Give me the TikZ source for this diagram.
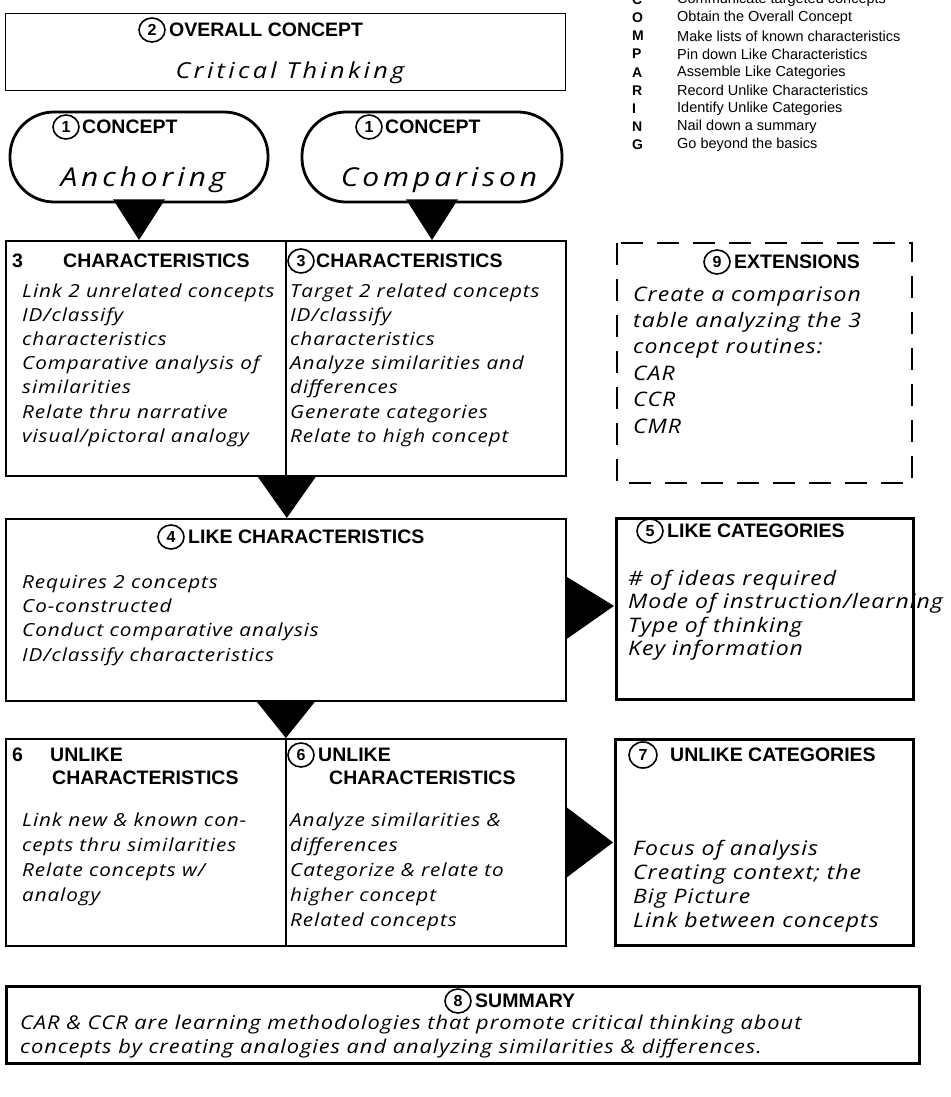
\documentclass[tikz,border=0pt]{standalone}
\usepackage{fontspec}
\setmainfont{Liberation Sans}
\newfontfamily\handf{Open Sans}[FakeStretch=1.15,LetterSpace=5]
\newfontfamily\handbig{Open Sans}[FakeStretch=1.15,LetterSpace=15]
\usetikzlibrary{calc,shapes.geometric}
\tikzset{
  box/.style={draw, line width=1.8pt, anchor=north west, inner sep=0pt},
  thinbox/.style={box, line width=1.3pt},
  thickbox/.style={box, line width=3pt},
  oval/.style={draw, line width=2.8pt, rounded corners=44pt, inner sep=0pt},
  cnum/.style={draw, ellipse, line width=1.6pt, minimum width=26pt, minimum height=24pt, inner sep=0pt,
    font=\fontsize{16}{16}\selectfont\bfseries},
  head/.style={anchor=west, font=\fontsize{19.5}{21}\selectfont\bfseries},
  hand/.style={font=\handf\itshape\fontsize{18}{24}\selectfont},
  handx/.style={font=\handf\itshape\fontsize{20}{24}\selectfont},
  hands/.style={font=\handf\itshape\fontsize{19}{24}\selectfont},
  title/.style={anchor=base, font=\handbig\itshape\fontsize{26}{30}\selectfont},
  legl/.style={anchor=west, font=\fontsize{14}{16}\selectfont\bfseries},
  legt/.style={anchor=west, font=\fontsize{14.5}{16}\selectfont},
  tri/.style={fill=black},
}
\newcommand\txtlines[6][hand]{%
  \foreach \t [count=\i] in {#6} {%
    \node[#1, anchor=base west] (#2\i) at (#3,{#4+(\i-1)*#5}) {\t};}}
\begin{document}
\begin{tikzpicture}[x=1pt,y=-1pt, every node/.style={inner sep=0pt}]
\useasboundingbox (0,0) rectangle (950,1097);
\fill[white] (0,0) rectangle (950,1097);

% legend
\foreach \L/\T [count=\i] in {C/Communicate targeted concepts, O/Obtain the Overall Concept,
  M/Make lists of known characteristics, P/Pin down Like Characteristics,
  A/Assemble Like Categories, R/Record Unlike Characteristics,
  I/Identify Unlike Categories, N/Nail down a summary, G/Go beyond the basics} {
  \node[legl] (legL\i) at (632,{-0.5+18.2*(\i-1)}) {\L};
  \node[legt] (legT\i) at (677,{-0.5+18.2*(\i-1)}) {\T};
}

% overall concept
\node[thinbox, minimum width=560pt, minimum height=77pt] (top) at (5,13) {};
\node[cnum] (c2) at (152,30) {2};
\node[head] (h2) at (169,30) {OVERALL CONCEPT};
\node[title, font=\handbig\itshape\fontsize{22}{26}\selectfont] (crit) at (290,79) {Critical Thinking};

% ovals
\node[oval, minimum width=258pt, minimum height=90pt] (oL) at (139,157) {};
\node[oval, minimum width=260pt, minimum height=90pt] (oR) at (432,157) {};
\node[cnum] (c1a) at (66,127) {1};
\node[head] (h1a) at (82,127) {CONCEPT};
\node[cnum] (c1b) at (369,127) {1};
\node[head] (h1b) at (385,127) {CONCEPT};
\node[title] (anch) at (143,186) {Anchoring};
\node[title] (comp) at (439,186) {Comparison};

% characteristics
\node[box, minimum width=280pt, minimum height=235pt] (cL) at (5,240) {};
\node[box, minimum width=280pt, minimum height=235pt] (cR) at (285,240) {};
\node[head] (n3a) at (12,261) {3};
\node[head] (h3a) at (63,261) {CHARACTERISTICS};
\node[cnum] (c3) at (301,261) {3};
\node[head] (h3b) at (316,261) {CHARACTERISTICS};
\txtlines{la}{22}{297}{24.2}{{Link 2 unrelated concepts},{ID/classify},{characteristics},
  {Comparative analysis of},{similarities},{Relate thru narrative},{visual/pictoral analogy}}
\txtlines{ra}{290}{297}{24.2}{{Target 2 related concepts},{ID/classify},{characteristics},
  {Analyze similarities and},{differences},{Generate categories},{Relate to high concept}}

% triangles from ovals
\fill[tri] ($(oL.south)+(-26,-4)$) -- ($(oL.south)+(26,-4)$) -- (oL.south |- cL.north) -- cycle;
\fill[tri] ($(oR.south)+(-26,-4)$) -- ($(oR.south)+(26,-4)$) -- (oR.south |- cR.north) -- cycle;

% extensions
\draw[line width=2pt, dash pattern=on 22pt off 14pt] (617,243) rectangle (912,483);
\node[anchor=north west, minimum width=295pt, minimum height=240pt] (ext) at (617,243) {};
\node[cnum] (c9) at (717,262) {9};
\node[head] (h9) at (734,262) {EXTENSIONS};
\txtlines[handx]{ea}{633}{301}{26.4}{{Create a comparison},{table analyzing the 3},{concept routines:},{CAR},{CCR},{CMR}}

% like characteristics
\node[box, minimum width=560pt, minimum height=182pt] (like) at (5,518) {};
\fill[tri] ($(cL.south east)+(-29,0)$) -- ($(cL.south east)+(29,0)$) -- (cL.south east |- like.north) -- cycle;
\node[cnum] (c4) at (171,537) {4};
\node[head] (h4) at (188,537) {LIKE CHARACTERISTICS};
\txtlines{lk}{22}{588}{24.4}{{Requires 2 concepts},{Co-constructed},{Conduct comparative analysis},{ID/classify characteristics}}

% like categories
\node[thickbox, minimum width=297pt, minimum height=181pt] (lcat) at (615,517) {};
\fill[tri] ($(like.east)+(0,-33)$) -- ($(like.east)+(0,29)$) -- ($(like.east -| lcat.west)+(-1,-4)$) -- cycle;
\node[cnum] (c5) at (650,531) {5};
\node[head] (h5) at (667,531) {LIKE CATEGORIES};
\txtlines[handx]{lc}{628}{585}{23.5}{{\# of ideas required},{Mode of instruction/learning},{Type of thinking},{Key information}}

% unlike characteristics
\node[box, minimum width=280pt, minimum height=207pt] (uL) at (5,738) {};
\node[box, minimum width=280pt, minimum height=207pt] (uR) at (285,738) {};
\fill[tri] ($(like.south)+(-29,0)$) -- ($(like.south)+(29,0)$) -- (like.south |- uL.north) -- cycle;
\node[head] (n6a) at (12,755) {6};
\node[head] (h6a) at (50,755) {UNLIKE};
\node[head] (h6b) at (52,778) {CHARACTERISTICS};
\node[cnum] (c6) at (301,755) {6};
\node[head] (h6c) at (318,755) {UNLIKE};
\node[head] (h6d) at (329,778) {CHARACTERISTICS};
\txtlines{ul}{22}{826}{25}{{Link new \& known con-},{cepts thru similarities},{Relate concepts w/},{analogy}}
\txtlines{ur}{290}{826}{25}{{Analyze similarities \&},{differences},{Categorize \& relate to},{higher concept},{Related concepts}}

% unlike categories
\node[thickbox, minimum width=298pt, minimum height=206pt] (ucat) at (614,738) {};
\fill[tri] ($(uR.east)+(0,-35)$) -- ($(uR.east)+(0,35)$) -- ($(uR.east -| ucat.west)+(-1,0)$) -- cycle;
\node[cnum, minimum width=28pt, minimum height=26pt] (c7) at (643,755) {7};
\node[head] (h7) at (670,755) {UNLIKE CATEGORIES};
\txtlines[handx]{uc}{633}{855}{24}{{Focus of analysis},{Creating context; the},{Big Picture},{Link between concepts}}

% summary
\node[box, line width=2.5pt, minimum width=913pt, minimum height=77pt] (sum) at (5,985) {};
\node[cnum] (c8) at (458,1001) {8};
\node[head] (h8) at (475,1001) {SUMMARY};
\txtlines[hands]{sm}{20}{1029}{24.5}{{CAR \& CCR are learning methodologies that promote critical thinking about},
  {concepts by creating analogies and analyzing similarities \& differences.}}
\end{tikzpicture}
\end{document}
